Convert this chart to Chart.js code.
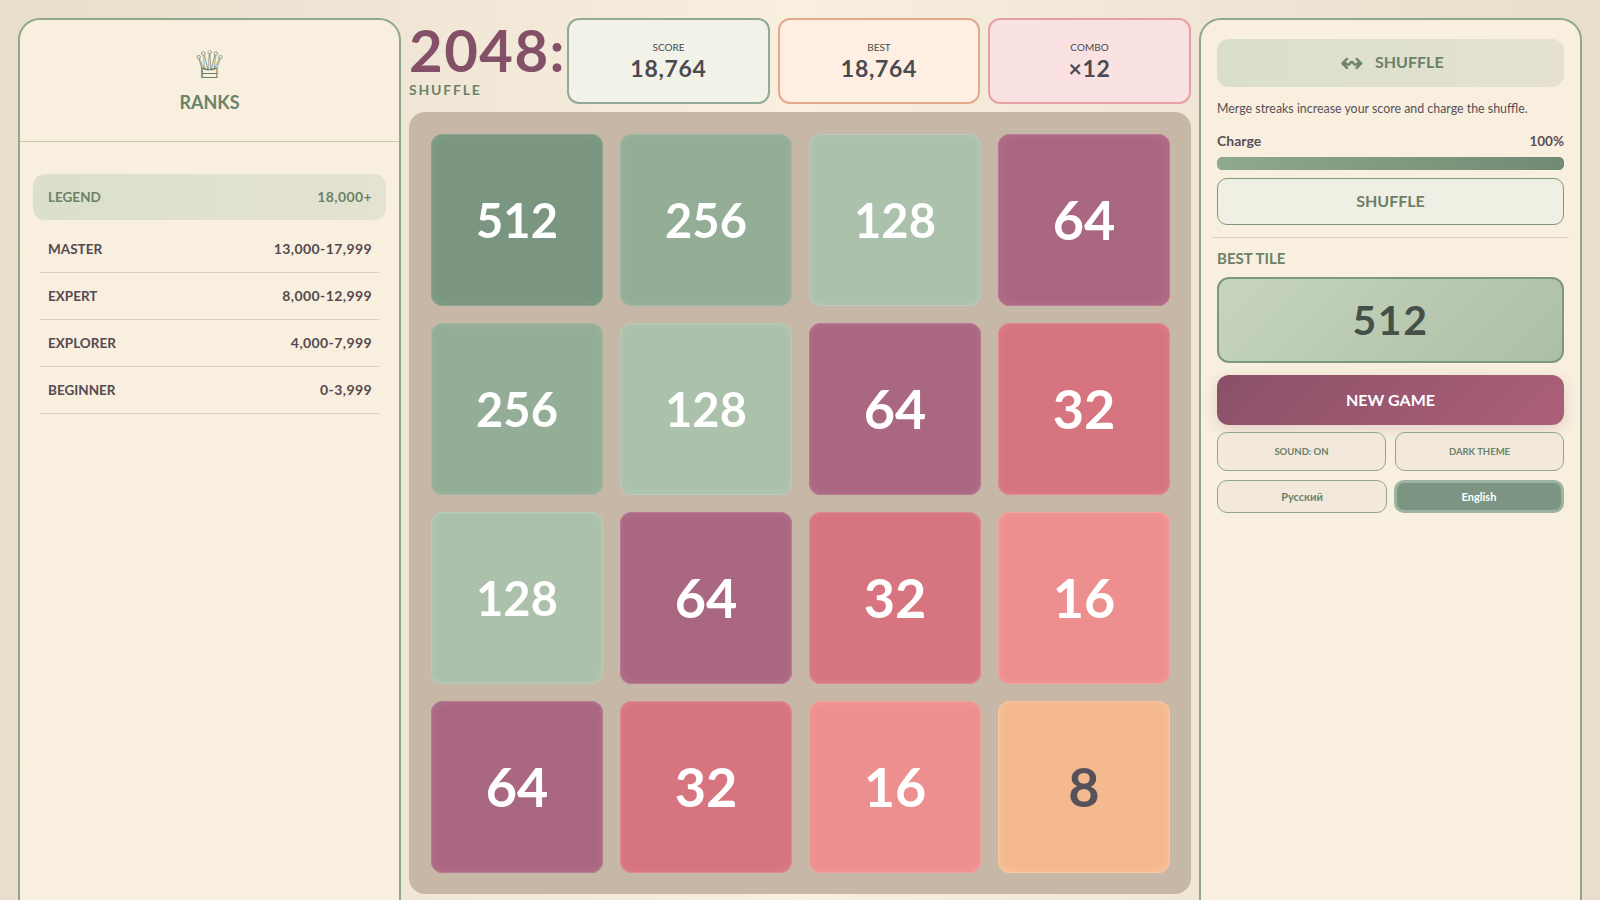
<!DOCTYPE html>
<html lang="en">
<head>
<meta charset="utf-8">
<title>2048: Shuffle</title>
<script src="https://cdn.jsdelivr.net/npm/chart.js@4"></script>
<style>
*{box-sizing:border-box}
html,body{margin:0;width:1600px;height:900px;overflow:hidden}
body{position:relative;background:linear-gradient(90deg,#e9ddcc 0%,#f8efde 50%,#e9ddcc 100%);font-family:"Trebuchet MS",Lato,sans-serif;color:#4a4a4f}
.a{position:absolute}
.t{position:absolute;white-space:nowrap;line-height:1}
.c{text-align:center}
.b{font-weight:700}
.sage{color:#6b8268}
.panel{background:#f8efde;border:2px solid #8fa88c;border-radius:22px 22px 0 0;top:18px;height:900px}
.box{border:2px solid;border-radius:12px;top:18px;height:86px;width:203px}
.btn{border:1.5px solid #8fa88c;border-radius:10px;background:#f2e9dc;display:flex;align-items:center;justify-content:center;font-weight:700;color:#6b8268;padding-bottom:1px}
.rule{height:1px;background:#d6d0c0}
</style>
</head>
<body>
<div class="a panel" style="left:18px;width:383px"></div>
<div class="t c b" style="left:18px;width:383px;top:46px;font-size:38px;color:#6b8268;font-family:'DejaVu Sans'">&#9813;</div>
<div class="t c b sage" style="left:18px;width:383px;top:93px;font-size:18px">RANKS</div>
<div class="a" style="left:20px;width:379px;top:141px;height:1px;background:#c9c8b0"></div>
<div class="a" style="left:33px;width:353px;top:174px;height:46px;border-radius:12px;background:linear-gradient(90deg,#dcdfcd,#e4e2d1)"></div>
<div id="ranks"></div>

<div class="t b" style="left:409px;top:21px;font-size:58px;color:#835068;letter-spacing:1.5px">2048:</div>
<div class="t b sage" style="left:409px;top:83px;font-size:14px;letter-spacing:1.8px">SHUFFLE</div>
<div class="a box" style="left:567px;border-color:#93a993;background:#f3f2e8"></div>
<div class="a box" style="left:778px;width:202px;border-color:#e3a98c;background:#feefe2"></div>
<div class="a box" style="left:988px;border-color:#e79ea6;background:#fbe2e2"></div>
<div class="t c" style="left:567px;width:203px;top:42px;font-size:10px">SCORE</div>
<div class="t c b" style="left:567px;width:203px;top:57px;font-size:23px;letter-spacing:.7px">18,764</div>
<div class="t c" style="left:778px;width:202px;top:42px;font-size:10px">BEST</div>
<div class="t c b" style="left:778px;width:202px;top:57px;font-size:23px;letter-spacing:.7px">18,764</div>
<div class="t c" style="left:988px;width:203px;top:42px;font-size:10px">COMBO</div>
<div class="t c b" style="left:988px;width:203px;top:57px;font-size:23px;letter-spacing:.7px">&times;12</div>

<div class="a" style="left:409px;top:112px;width:782px;height:782px;border-radius:16px;background:#c7b7a6">
  <canvas id="board" width="782" height="782" style="display:block;width:782px;height:782px"></canvas>
</div>

<div class="a panel" style="left:1199px;width:383px"></div>
<div class="a" style="left:1217px;top:39px;width:347px;height:48px;border-radius:12px;background:linear-gradient(90deg,#dadfcd,#e5e1d0)"></div>
<div class="t sage" style="left:1340px;top:49px;font-size:28px;font-family:'DejaVu Sans'">&#8621;</div>
<div class="t b sage" style="left:1375px;top:54px;font-size:16px">SHUFFLE</div>
<div class="t" style="left:1217px;top:103px;font-size:12.4px;color:#5a5058">Merge streaks increase your score and charge the shuffle.</div>
<div class="t b" style="left:1217px;top:134px;font-size:14px;color:#5a5058">Charge</div>
<div class="t b" style="right:36px;top:135px;font-size:13.5px;color:#5a5058">100%</div>
<div class="a" style="left:1217px;top:157px;width:347px;height:13px"><canvas id="charge" width="347" height="13" style="display:block;width:347px;height:13px"></canvas></div>
<div class="a btn" style="left:1217px;top:178px;width:347px;height:47px;background:#f0efe3;border-color:#7e987f;font-size:16px;padding-bottom:3px">SHUFFLE</div>
<div class="a rule" style="left:1212px;width:357px;top:237px"></div>
<div class="t b sage" style="left:1217px;top:251px;font-size:15px">BEST TILE</div>
<div class="a" style="left:1217px;top:277px;width:347px;height:86px;border-radius:12px;border:2.5px solid #7e987f;background:linear-gradient(135deg,#c7d5bd,#adbfa6);display:flex;align-items:center;justify-content:center;font-size:41px;font-weight:700;color:#45504a;letter-spacing:1.5px;padding-bottom:1px">512</div>
<div class="a" style="left:1217px;top:375px;width:347px;height:50px;border-radius:12px;background:linear-gradient(135deg,#8a5068,#ab6078);box-shadow:0 4px 14px rgba(138,80,104,.2);display:flex;align-items:center;justify-content:center;font-size:16px;font-weight:700;color:#fff;padding-bottom:1px">NEW GAME</div>
<div class="a btn" style="left:1217px;top:432px;width:169px;height:39px;font-size:9.5px">SOUND: ON</div>
<div class="a btn" style="left:1395px;top:432px;width:169px;height:39px;font-size:9.5px">DARK THEME</div>
<div class="a btn" style="left:1217px;top:480px;width:170px;height:33px;font-size:11px">Русский</div>
<div class="a btn" style="left:1394px;top:480px;width:170px;height:33px;font-size:11px;background:#7c9582;border:3px solid #9eb39f;color:#fff">English</div>

<script>
const rankNames = ["MASTER", "EXPERT", "EXPLORER", "BEGINNER"];
const rankRanges = ["13,000-17,999", "8,000-12,999", "4,000-7,999", "0-3,999"];
const topRankName = "LEGEND";
const topRankRange = "18,000+";

const boardColumns = ["A", "B", "C", "D"];
const boardRow1 = [512, 256, 128, 64];
const boardRow2 = [256, 128, 64, 32];
const boardRow3 = [128, 64, 32, 16];
const boardRow4 = [64, 32, 16, 8];
const chargeLabels = ["Charge"];
const chargeValues = [100];

const tileColors = {512:"#7a9680", 256:"#94ad97", 128:"#abc1ac", 64:"#aa6782", 32:"#d6747f", 16:"#ed8f8f", 8:"#f5b98f"};
const tileEdges = {512:"#8aa38f", 256:"#a2b8a4", 128:"#b8ccb8", 64:"#b97a93", 32:"#de8a92", 16:"#f2a3a0", 8:"#f8c8a4"};

function addRank(name, range, i, color){
  const cy = i < 0 ? 197 : 249 + 47 * i;
  const html = `<div class="t b" style="left:48px;top:${cy-6}px;font-size:13.5px;color:${color}">${name}</div>`
    + `<div class="t b" style="right:1228px;top:${cy-7}px;font-size:14px;letter-spacing:.4px;color:${color}">${range}</div>`
    + (i < 0 ? "" : `<div class="a rule" style="left:40px;width:339px;top:${cy+23}px"></div>`);
  document.getElementById("ranks").insertAdjacentHTML("beforeend", html);
}
addRank(topRankName, topRankRange, -1, "#6b8268");
rankNames.forEach((n, i) => addRank(n, rankRanges[i], i, "#544a50"));

const GAP = 0.045;
const rows = [boardRow1, boardRow2, boardRow3, boardRow4];
const tilePlugin = {
  id: "tileFaces",
  afterDatasetsDraw(chart){
    const ctx = chart.ctx;
    chart.data.datasets.forEach((ds, d) => {
      chart.getDatasetMeta(d).data.forEach((bar, i) => {
        const v = ds.data[i].tile;
        const p = bar.getProps(["x", "y", "base", "width"], true);
        const top = Math.min(p.y, p.base), h = Math.abs(p.base - p.y), left = p.x - p.width / 2;
        ctx.save();
        ctx.beginPath();
        ctx.roundRect(left, top, p.width, h, 12);
        ctx.clip();
        ctx.strokeStyle = tileEdges[v];
        ctx.shadowColor = tileEdges[v];
        ctx.shadowBlur = 6;
        ctx.lineWidth = 2;
        ctx.beginPath();
        ctx.roundRect(left, top, p.width, h, 12);
        ctx.stroke();
        ctx.restore();
        ctx.save();
        ctx.fillStyle = v === 8 ? "#55525a" : "#ffffff";
        ctx.textAlign = "center";
        ctx.textBaseline = "middle";
        ctx.font = (v >= 100 ? "700 47px " : "700 54px ") + '"Trebuchet MS",Lato,sans-serif';
        ctx.fillText(String(v), p.x, top + h / 2 + 3);
        ctx.restore();
      });
    });
  }
};
new Chart(document.getElementById("board"), {
  type: "bar",
  plugins: [tilePlugin],
  data: {
    labels: boardColumns,
    datasets: rows.map((row, r) => ({
      label: "Row " + (r + 1),
      data: row.map((v, c) => ({x: boardColumns[c], y: [rows.length - 1 - r + GAP, rows.length - r - GAP], tile: v})),
      backgroundColor: row.map(v => tileColors[v]),
      borderRadius: 12,
      borderSkipped: false,
      grouped: false,
      categoryPercentage: 1,
      barPercentage: 0.91
    }))
  },
  options: {
    responsive: false,
    animation: false,
    layout: {padding: {left: 13.5, right: 12.5, top: 13.5, bottom: 12.5}},
    plugins: {legend: {display: false}, tooltip: {enabled: false}},
    scales: {
      x: {display: false},
      y: {display: false, min: 0, max: 4}
    }
  }
});

const chargeCanvas = document.getElementById("charge");
const chargeFill = chargeCanvas.getContext("2d").createLinearGradient(0, 0, 347, 0);
chargeFill.addColorStop(0, "#8fa98c");
chargeFill.addColorStop(1, "#6f8b74");
new Chart(chargeCanvas, {
  type: "bar",
  data: {labels: chargeLabels, datasets: [{data: chargeValues, backgroundColor: chargeFill, borderRadius: 7, borderSkipped: false, categoryPercentage: 1, barPercentage: 1}]},
  options: {
    indexAxis: "y",
    responsive: false,
    animation: false,
    plugins: {legend: {display: false}, tooltip: {enabled: false}},
    scales: {x: {display: false, min: 0, max: 100}, y: {display: false}}
  }
});
</script>
</body>
</html>
